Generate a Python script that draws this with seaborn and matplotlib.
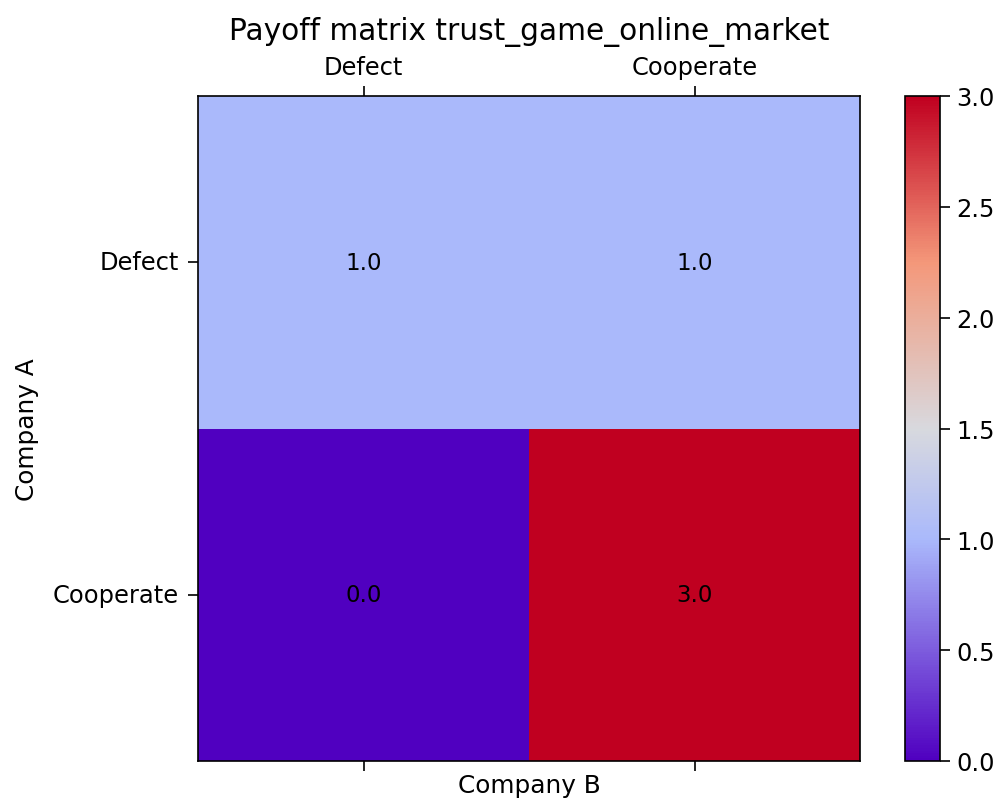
import numpy as np
import pandas as pd
import matplotlib
matplotlib.use('Agg')
import matplotlib.pyplot as plt
import seaborn as sns
from matplotlib.colors import LinearSegmentedColormap

# payoff data
strategies = ["Defect", "Cooperate"]
payoffs = [[1.0, 1.0],
           [0.0, 3.0]]
title = "Payoff matrix trust_game_online_market"

df = pd.DataFrame(payoffs, index=strategies, columns=strategies)

# coolwarm-like map with the purple low end seen in the reference
cmap = LinearSegmentedColormap.from_list(
    "trust", [(0.0, "#5000c0"), (0.333, "#aab9fb"), (0.5, "#d8d9de"),
              (0.75, "#f4987a"), (1.0, "#c00020")])

fig = plt.figure(figsize=(10.01, 8.04), dpi=100)
ax = fig.add_axes([198 / 1001, 42 / 804, 662 / 1001, 665 / 804])
cax = fig.add_axes([905 / 1001, 42 / 804, 35 / 1001, 665 / 804])

sns.heatmap(df, ax=ax, cbar_ax=cax, cmap=cmap, vmin=0, vmax=3,
            annot=True, fmt=".1f", annot_kws={"color": "black", "size": 16.5})

for sp in ax.spines.values():
    sp.set_visible(True)
    sp.set_linewidth(1.2)
    sp.set_color("black")

ax.tick_params(axis="x", top=True, labeltop=True, bottom=True, labelbottom=False,
               length=7, width=1.2, labelsize=17.4, pad=5)
ax.tick_params(axis="y", left=True, length=7, width=1.2, labelsize=17.4, pad=7,
               labelrotation=0)
ax.set_xlabel("Company B", fontsize=17.8, labelpad=2)
ax.set_ylabel("Company A", fontsize=17.8, labelpad=10)
ax.set_title(title, fontsize=21.3, pad=12)

cb = ax.collections[0].colorbar
cb.outline.set_visible(True)
cb.outline.set_linewidth(1.2)
cb.outline.set_edgecolor("black")
cb.set_ticks([0.0, 0.5, 1.0, 1.5, 2.0, 2.5, 3.0])
cb.set_ticklabels(["0.0", "0.5", "1.0", "1.5", "2.0", "2.5", "3.0"])
cax.tick_params(labelsize=17.4, length=7, width=1.2, pad=5)

fig.savefig("out.png", dpi=100)
